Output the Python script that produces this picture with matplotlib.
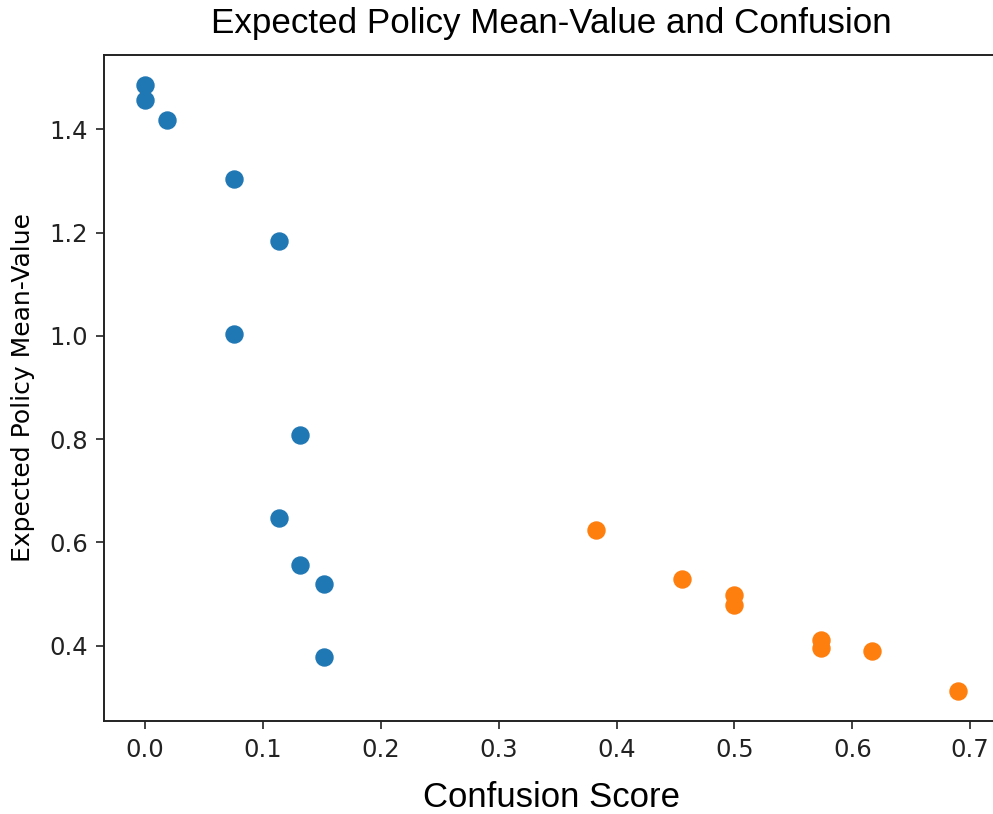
import matplotlib
matplotlib.use("Agg")
import matplotlib.pyplot as plt

# ── DATA ─────────────────────────────────────────────────
low_confusion = [0.0, 0.0, 0.0185, 0.0751, 0.1134, 0.0751, 0.1318, 0.1134, 0.1318, 0.1516, 0.1516]
low_value = [1.485, 1.456, 1.417, 1.303, 1.183, 1.004, 0.808, 0.648, 0.557, 0.519, 0.379]

high_confusion = [0.3828, 0.4555, 0.4994, 0.4994, 0.5731, 0.5731, 0.6171, 0.6893]
high_value = [0.624, 0.529, 0.498, 0.479, 0.411, 0.395, 0.390, 0.313]

# ── PLOT ─────────────────────────────────────────────────
fig = plt.figure(figsize=(9.93, 8.14), dpi=100)
ax = fig.add_axes([0.1052, 0.1143, 0.9000, 0.8181])

ax.scatter(low_confusion, low_value, s=150, color="#1f77b4")
ax.scatter(high_confusion, high_value, s=150, color="#ff7f0e")

ax.set_title("Expected Policy Mean-Value and Confusion",
             fontsize=25.2, family="Liberation Sans", pad=16)
ax.set_xlabel("Confusion Score", fontsize=25, family="Liberation Sans", labelpad=14)
ax.set_ylabel("Expected Policy Mean-Value", fontsize=18, labelpad=10)

ax.set_xticks([0.0, 0.1, 0.2, 0.3, 0.4, 0.5, 0.6, 0.7])
ax.set_yticks([0.4, 0.6, 0.8, 1.0, 1.2, 1.4])
ax.tick_params(labelsize=17.5, length=6, width=1.2, pad=6, colors="#222222")
for s in ax.spines.values():
    s.set_linewidth(1.4)
    s.set_color("#222222")

plt.savefig("out.png", dpi=100)
print("Saved out.png")
